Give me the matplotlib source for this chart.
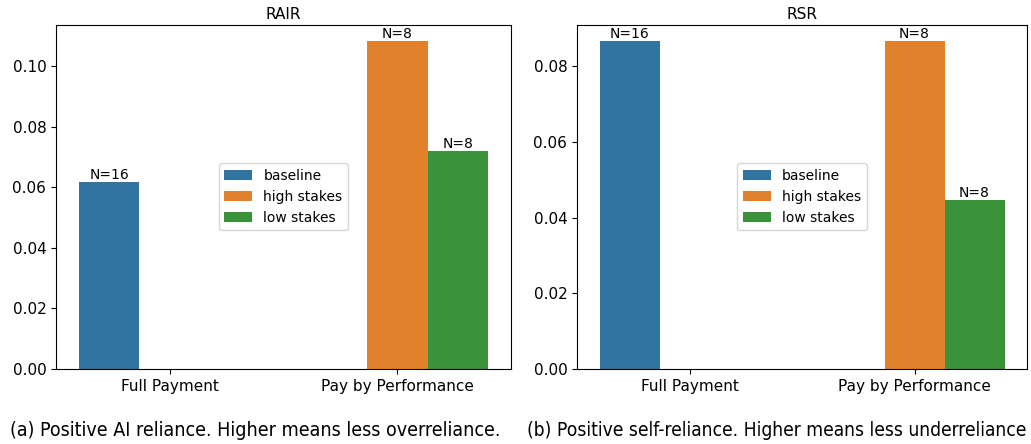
import matplotlib
matplotlib.use("Agg")
import matplotlib.pyplot as plt
import numpy as np

# 数据
categories = ["Full Payment", "Pay by Performance"]
groups = ["baseline", "high stakes", "low stakes"]
colors = ["#3274a1", "#e1812c", "#3a923a"]

rair_baseline = [0.0619, None]
rair_high = [None, 0.1083]
rair_low = [None, 0.0722]

rsr_baseline = [0.0866, None]
rsr_high = [None, 0.0866]
rsr_low = [None, 0.0448]

counts_baseline = [16, None]
counts_high = [None, 8]
counts_low = [None, 8]

captions = ["(a) Positive AI reliance. Higher means less overreliance.",
            "(b) Positive self-reliance. Higher means less underreliance"]


def draw_panel(ax, title, series):
    width = 0.8 / len(groups)
    x = np.arange(len(categories))
    counts = [counts_baseline, counts_high, counts_low]
    for i, (name, vals) in enumerate(zip(groups, series)):
        offset = (i - 1) * width
        xs = [x[j] + offset for j in range(len(vals)) if vals[j] is not None]
        ys = [v for v in vals if v is not None]
        ns = [counts[i][j] for j in range(len(vals)) if vals[j] is not None]
        bars = ax.bar(xs, ys, width, color=colors[i], label=name)
        ax.bar_label(bars, labels=["N=%d" % n for n in ns], fontsize=10, padding=0)
    ax.set_xticks(x)
    ax.set_xticklabels(categories, fontsize=11)
    ax.tick_params(axis="y", labelsize=11)
    ax.set_xlim(-0.5, 1.5)
    top = max(v for s in series for v in s if v is not None)
    ax.set_ylim(0, top * 1.05)
    ax.set_title(title, fontsize=11, pad=4)
    ax.legend(loc="center", fontsize=10)


fig = plt.figure(figsize=(10.31, 4.44), dpi=100)
ax1 = fig.add_axes([56 / 1031, 1 - 369 / 444, 455 / 1031, 344 / 444])
ax2 = fig.add_axes([577 / 1031, 1 - 369 / 444, 450 / 1031, 344 / 444])

draw_panel(ax1, "RAIR", [rair_baseline, rair_high, rair_low])
draw_panel(ax2, "RSR", [rsr_baseline, rsr_high, rsr_low])

fig.text(255 / 1031, 1 - 430 / 444, captions[0], ha="center", va="center",
         fontsize=14, family="Liberation Sans Narrow", stretch="condensed")
fig.text(777 / 1031, 1 - 430 / 444, captions[1], ha="center", va="center",
         fontsize=13.8, family="Liberation Sans Narrow", stretch="condensed")

fig.savefig("out.png", dpi=100)
